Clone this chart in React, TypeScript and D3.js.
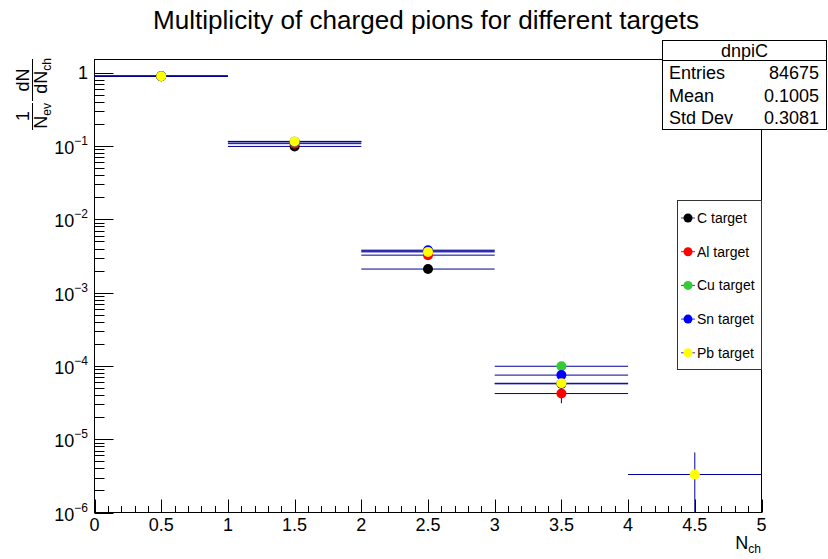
import React, { useEffect, useRef } from 'react';
import * as d3 from 'd3';

// bins of N_ch (centres), width 1
const binCenters = [0.5, 1.5, 2.5, 3.5, 4.5];
const targets = ['C target', 'Al target', 'Cu target', 'Sn target', 'Pb target'];
const markerColors = ['#000000', '#ff0000', '#33cc33', '#0000ff', '#ffff00'];

// 1/N_ev dN/dN_ch per target (0 = empty bin)
const valuesC = [0.9, 0.099, 2.1e-3, 5.7e-5, 0];
const valuesAl = [0.9, 0.108, 3.25e-3, 4.2e-5, 0];
const valuesCu = [0.9, 0.114, 3.7e-3, 9.9e-5, 0];
const valuesSn = [0.9, 0.115, 3.8e-3, 7.5e-5, 0];
const valuesPb = [0.9, 0.116, 3.6e-3, 5.8e-5, 3.3e-6];

const errorsC = [0.004, 0.002, 1.0e-4, 1.2e-5, 0];
const errorsAl = [0.004, 0.002, 1.2e-4, 1.1e-5, 0];
const errorsCu = [0.004, 0.002, 1.2e-4, 1.2e-5, 0];
const errorsSn = [0.004, 0.002, 1.2e-4, 1.0e-5, 0];
const errorsPb = [0.004, 0.002, 1.2e-4, 1.0e-5, 3.3e-6];

const yDecades = [-6, -5, -4, -3, -2, -1, 0];
const xTickLabels = ['0', '0.5', '1', '1.5', '2', '2.5', '3', '3.5', '4', '4.5', '5'];

const statsTitle = 'dnpiC';
const statsNames = ['Entries', 'Mean', 'Std Dev'];
const statsValues = ['84675', '0.1005', '0.3081'];

const FONT = '"Liberation Sans", Arial, Helvetica, sans-serif';
const LINE = '#000099';

function App() {
  const svgRef = useRef<SVGSVGElement>(null);

  useEffect(() => {
    const svg = d3.select(svgRef.current);
    svg.selectAll('*').remove();

    const left = 94.5, right = 761.5, top = 59.5, bottom = 512.5;

    const x = d3.scaleLinear().domain([0, 5]).range([left, right]);
    const y = d3.scaleLog().domain([1e-6, 1.52]).range([bottom, top]);

    svg.append('rect').attr('width', 828).attr('height', 559).attr('fill', '#fff');

    // title
    svg.append('text')
      .attr('x', 426).attr('y', 29)
      .attr('text-anchor', 'middle')
      .attr('font-size', 25)
      .attr('textLength', 546)
      .attr('lengthAdjust', 'spacingAndGlyphs')
      .text('Multiplicity of charged pions for different targets');

    // frame
    svg.append('rect')
      .attr('x', left).attr('y', top)
      .attr('width', right - left).attr('height', bottom - top)
      .attr('fill', 'none').attr('stroke', '#000');

    // y ticks (log)
    const ticks = svg.append('g').attr('stroke', '#000').attr('stroke-width', 1);
    yDecades.forEach((k) => {
      const base = Math.pow(10, k);
      ticks.append('line')
        .attr('x1', left).attr('x2', left + 19)
        .attr('y1', Math.round(y(base)) + 0.5).attr('y2', Math.round(y(base)) + 0.5);
      if (k < 0) {
        for (let m = 2; m <= 9; m++) {
          const v = m * base;
          ticks.append('line')
            .attr('x1', left).attr('x2', left + 10)
            .attr('y1', Math.round(y(v)) + 0.5).attr('y2', Math.round(y(v)) + 0.5);
        }
      }
    });

    // y tick labels
    yDecades.forEach((k) => {
      const ty = y(Math.pow(10, k));
      if (k === 0) {
        svg.append('text')
          .attr('x', 88).attr('y', ty + 6.5)
          .attr('text-anchor', 'end').attr('font-size', 18)
          .text('1');
      } else {
        const t = svg.append('text')
          .attr('x', 88).attr('y', ty + 8)
          .attr('text-anchor', 'end').attr('font-size', 18);
        t.append('tspan').text('10');
        t.append('tspan').attr('dy', -9).attr('font-size', 12).text('\u2212' + Math.abs(k));
      }
    });

    // x ticks
    d3.range(0, 51).forEach((i) => {
      const v = i / 10;
      const major = i % 5 === 0;
      const px = Math.round(x(v)) + 0.5;
      ticks.append('line')
        .attr('x1', px).attr('x2', px)
        .attr('y1', bottom).attr('y2', bottom - (major ? 13 : 6.5));
    });

    xTickLabels.forEach((lab, i) => {
      svg.append('text')
        .attr('x', x(i * 0.5)).attr('y', 531)
        .attr('text-anchor', 'middle').attr('font-size', 18)
        .text(lab);
    });

    // x axis title
    const xt = svg.append('text')
      .attr('x', 761).attr('y', 548.5)
      .attr('text-anchor', 'end').attr('font-size', 18);
    xt.append('tspan').text('N');
    xt.append('tspan').attr('dy', 4.5).attr('font-size', 12).text('ch');

    // y axis title (rotated fractions)
    const yt = svg.append('g').attr('transform', 'translate(32,59) rotate(-90)');
    // dN / dN_ch
    const dnd = yt.append('text').attr('x', 1).attr('y', 15).attr('font-size', 18).attr('text-anchor', 'end');
    dnd.append('tspan').text('dN');
    dnd.append('tspan').attr('dy', 4).attr('font-size', 12).text('ch');
    yt.append('text').attr('x', -21).attr('y', -3).attr('font-size', 18).attr('text-anchor', 'middle').text('dN');
    yt.append('line').attr('x1', 0).attr('x2', -42).attr('y1', 0.5).attr('y2', 0.5).attr('stroke', '#000');
    // 1 / N_ev
    const nev = yt.append('text').attr('x', -44).attr('y', 15).attr('font-size', 18).attr('text-anchor', 'end');
    nev.append('tspan').text('N');
    nev.append('tspan').attr('dy', 4).attr('font-size', 12).text('ev');
    yt.append('text').attr('x', -57).attr('y', -3).attr('font-size', 18).attr('text-anchor', 'middle').text('1');
    yt.append('line').attr('x1', -44).attr('x2', -71).attr('y1', 0.5).attr('y2', 0.5).attr('stroke', '#000');

    // data
    const allValues = [valuesC, valuesAl, valuesCu, valuesSn, valuesPb];
    const allErrors = [errorsC, errorsAl, errorsCu, errorsSn, errorsPb];
    const plot = svg.append('g');

    allValues.forEach((vals, s) => {
      const g = plot.append('g');
      vals.forEach((v, i) => {
        if (v <= 0) return;
        const c = binCenters[i];
        const e = allErrors[s][i];
        const py = y(v);
        g.append('line')
          .attr('x1', x(c - 0.5)).attr('x2', x(c + 0.5))
          .attr('y1', py).attr('y2', py)
          .attr('stroke', LINE).attr('stroke-width', 1);
        const lo = v - e > 1e-6 ? y(v - e) : bottom;
        g.append('line')
          .attr('x1', x(c)).attr('x2', x(c))
          .attr('y1', lo).attr('y2', y(v + e))
          .attr('stroke', LINE).attr('stroke-width', 1);
        g.append('circle')
          .attr('cx', x(c)).attr('cy', py).attr('r', 5)
          .attr('fill', markerColors[s]);
      });
    });

    // stats box
    const sx = 662.5, sy = 40.5, sw = 164, sh = 89;
    svg.append('rect')
      .attr('x', sx).attr('y', sy).attr('width', sw).attr('height', sh)
      .attr('fill', '#fff').attr('stroke', '#000');
    svg.append('line')
      .attr('x1', sx).attr('x2', sx + sw).attr('y1', 60.5).attr('y2', 60.5)
      .attr('stroke', '#000');
    svg.append('text')
      .attr('x', sx + sw / 2).attr('y', 57)
      .attr('text-anchor', 'middle').attr('font-size', 18)
      .text(statsTitle);
    statsNames.forEach((name, i) => {
      const by = 79 + i * 22.5;
      svg.append('text').attr('x', 669).attr('y', by).attr('font-size', 18).text(name);
      svg.append('text').attr('x', 819).attr('y', by).attr('font-size', 18)
        .attr('text-anchor', 'end').text(statsValues[i]);
    });

    // legend
    const lx = 677.5, ly = 200.5;
    svg.append('rect')
      .attr('x', lx).attr('y', ly).attr('width', 84).attr('height', 169)
      .attr('fill', '#fff').attr('stroke', '#333');
    targets.forEach((name, i) => {
      const ry = 218 + i * 33.7;
      svg.append('line')
        .attr('x1', 681).attr('x2', 695).attr('y1', ry).attr('y2', ry)
        .attr('stroke', '#3333cc').attr('stroke-width', 1);
      svg.append('circle')
        .attr('cx', 688).attr('cy', ry).attr('r', 4.5)
        .attr('fill', markerColors[i]);
      svg.append('text')
        .attr('x', 697).attr('y', ry + 5)
        .attr('font-size', 14)
        .text(name);
    });

    return () => { svg.selectAll('*').remove(); };
  }, []);

  return (
    <svg
      ref={svgRef}
      width={828}
      height={559}
      style={{ position: 'absolute', left: 0, top: 0, fontFamily: FONT }}
    />
  );
}

export default App;
